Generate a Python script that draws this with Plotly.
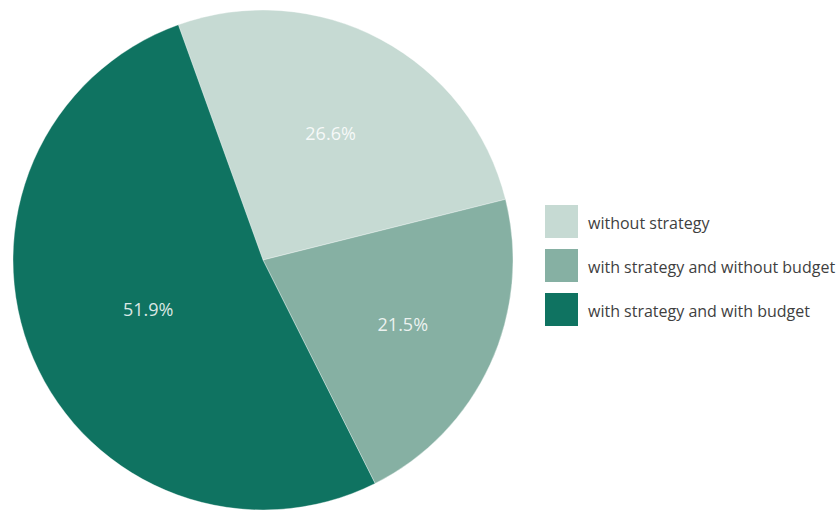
import plotly.graph_objects as go

labels = ["without strategy", "with strategy and without budget", "with strategy and with budget"]
values = [26.6, 21.5, 51.9]
colors = ["#c6dad3", "#86b0a3", "#0f7361"]

fig = go.Figure()
fig.add_trace(go.Pie(
    labels=labels,
    values=values,
    sort=False,
    direction="clockwise",
    rotation=-19.8,
    marker=dict(colors=colors, line=dict(color="rgba(255,255,255,0.6)", width=0.6)),
    textinfo="percent",
    texttemplate="%{percent:.1%}",
    textposition="inside",
    insidetextorientation="horizontal",
    textfont=dict(family="Open Sans", size=18, color="rgba(255,255,255,0.85)"),
    domain=dict(x=[13/839, 513/839], y=[5/515, 505/515]),
    showlegend=False,
    hoverinfo="label+percent",
))

# custom legend (large square swatches)
sq = 33
top0 = 205
step = 44
for i, (lab, col) in enumerate(zip(labels, colors)):
    y0 = top0 + i * step
    fig.add_shape(type="rect", xref="paper", yref="paper",
                  x0=545/839, x1=(545+sq)/839,
                  y0=1 - (y0+sq)/515, y1=1 - y0/515,
                  fillcolor=col, line=dict(width=0))
    fig.add_annotation(xref="paper", yref="paper", x=586/839, y=1 - (y0 + sq/2 + 1)/515,
                       text=lab, showarrow=False, xanchor="left", yanchor="middle",
                       font=dict(family="Open Sans", size=16, color="#3f3f3f"))

fig.update_layout(
    width=839, height=515,
    margin=dict(l=0, r=0, t=0, b=0),
    paper_bgcolor="white", plot_bgcolor="white",
)
fig.write_html("out.html")
